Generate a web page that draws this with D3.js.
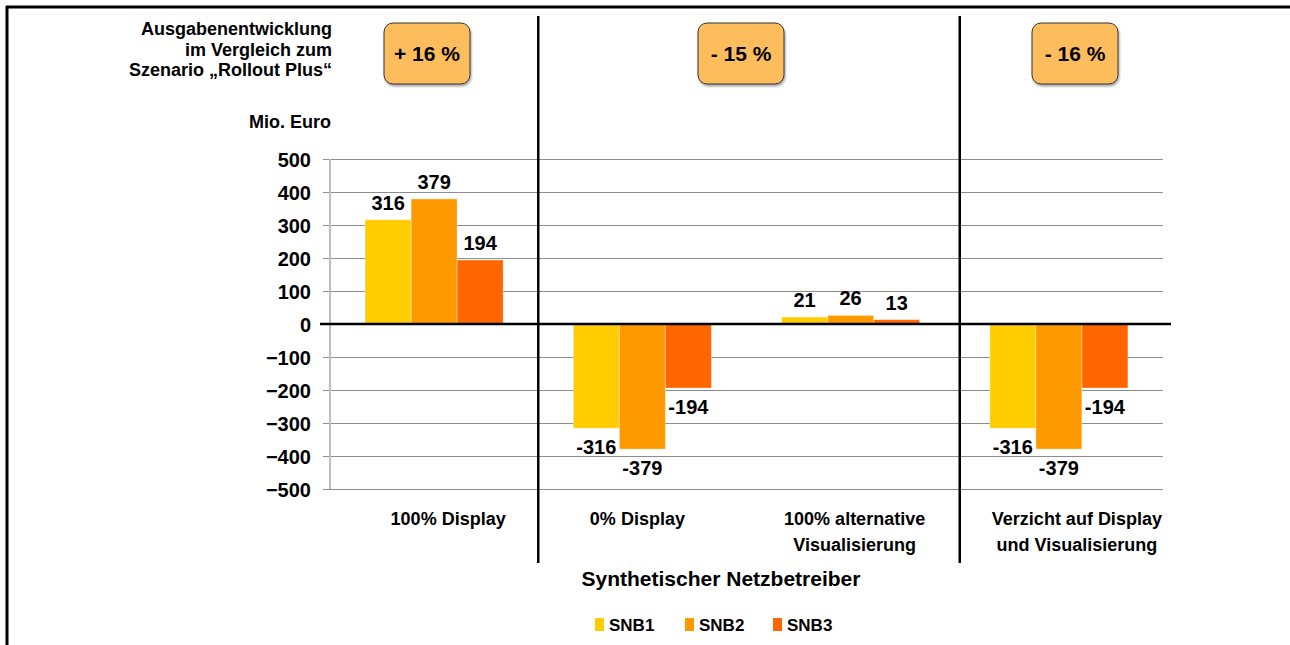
<!DOCTYPE html>
<html>
<head>
<meta charset="utf-8">
<script src="https://cdn.jsdelivr.net/npm/d3@7"></script>
<style>
    body { margin: 0; background: #fff; }
    svg { display: block; font-family: "Liberation Sans", Arial, sans-serif; font-weight: bold; }
</style>
</head>
<body>
<div id="chart"></div>
<script>
// Data
var categories = ['100% Display', '0% Display', '100% alternative\nVisualisierung', 'Verzicht auf Display\nund Visualisierung'];
var seriesNames = ['SNB1', 'SNB2', 'SNB3'];
var snb1 = [316, -316, 21, -316];
var snb2 = [379, -379, 26, -379];
var snb3 = [194, -194, 13, -194];
var yTicks = [500, 400, 300, 200, 100, 0, -100, -200, -300, -400, -500];
var changeLabels = ['+ 16 %', '- 15 %', '- 16 %'];
var titleLines = ['Ausgabenentwicklung', 'im Vergleich zum', 'Szenario \u201eRollout Plus\u201c'];

var colors = ['#FFCC00', '#FF9900', '#FF6600'];

var width = 1290, height = 645;
var plot = {left: 330, right: 1163, top: 159, bottom: 489};

var svg = d3.select('#chart').append('svg')
    .attr('width', width)
    .attr('height', height);

// Frame (left + top edge only)
svg.append('line').attr('x1', 7).attr('x2', 7).attr('y1', 6).attr('y2', height)
    .attr('stroke', '#000').attr('stroke-width', 3);
svg.append('line').attr('x1', 6).attr('x2', width).attr('y1', 7).attr('y2', 7)
    .attr('stroke', '#000').attr('stroke-width', 3);

// Scales
var xScale = d3.scaleBand()
    .domain(categories)
    .range([plot.left, plot.right])
    .paddingInner(0.337)
    .paddingOuter(0.337 / 2);

var xInner = d3.scaleBand()
    .domain(seriesNames)
    .range([0, xScale.bandwidth()]);

var yScale = d3.scaleLinear()
    .domain([-500, 500])
    .range([plot.bottom, plot.top]);

// Gridlines
var grid = d3.axisLeft(yScale)
    .tickValues(yTicks)
    .tickSize(-(plot.right - plot.left) - 7)
    .tickFormat('');
svg.append('g')
    .attr('class', 'grid')
    .attr('transform', 'translate(' + (plot.left - 7) + ',0)')
    .call(grid)
    .call(function(g) {
        g.select('.domain').remove();
        g.selectAll('line').attr('stroke', '#8c8c8c').attr('stroke-width', 1);
    });

// Y axis line
svg.append('line')
    .attr('x1', plot.left).attr('x2', plot.left)
    .attr('y1', yScale(500)).attr('y2', yScale(-500))
    .attr('stroke', '#bdbdbd').attr('stroke-width', 2);

// Y tick labels
var yAxis = d3.axisLeft(yScale).tickValues(yTicks).tickSize(0).tickPadding(0);
svg.append('g')
    .attr('transform', 'translate(' + 311 + ',0)')
    .call(yAxis)
    .call(function(g) {
        g.select('.domain').remove();
        g.selectAll('text')
            .attr('font-size', 20)
            .attr('font-family', '"Liberation Sans", Arial, sans-serif')
            .attr('font-weight', 'bold')
            .attr('fill', '#000')
            .attr('dy', '0.35em');
    });

// Bars
var table = categories.map(function(c, i) {
    return {cat: c, values: [snb1[i], snb2[i], snb3[i]]};
});

var groups = svg.selectAll('.group')
    .data(table)
    .enter().append('g')
    .attr('class', 'group')
    .attr('transform', function(d) { return 'translate(' + xScale(d.cat) + ',0)'; });

groups.selectAll('rect')
    .data(function(d) { return d.values.map(function(v, j) { return {name: seriesNames[j], value: v, j: j}; }); })
    .enter().append('rect')
    .attr('x', function(d) { return xInner(d.name); })
    .attr('width', xInner.bandwidth())
    .attr('y', function(d) { return yScale(Math.max(0, d.value)); })
    .attr('height', function(d) { return Math.abs(yScale(d.value) - yScale(0)); })
    .attr('fill', function(d) { return colors[d.j]; })
    .attr('stroke', 'rgba(255,255,255,0.35)')
    .attr('stroke-width', 1);

groups.selectAll('.val')
    .data(function(d) { return d.values.map(function(v, j) { return {name: seriesNames[j], value: v}; }); })
    .enter().append('text')
    .attr('class', 'val')
    .attr('x', function(d) { return xInner(d.name) + xInner.bandwidth() / 2; })
    .attr('y', function(d) { return d.value >= 0 ? yScale(d.value) - 10 : yScale(d.value) + 26; })
    .attr('text-anchor', 'middle')
    .attr('font-size', 20)
    .text(function(d) { return d.value; });

// Zero line
svg.append('line')
    .attr('x1', plot.left - 10).attr('x2', plot.right + 8)
    .attr('y1', yScale(0)).attr('y2', yScale(0))
    .attr('stroke', '#000').attr('stroke-width', 2.5);

// Section separators
var sepX = [xScale(categories[1]) - xScale.step() * xScale.paddingInner() / 2,
            xScale(categories[3]) - xScale.step() * xScale.paddingInner() / 2 + 5];
svg.selectAll('.sep')
    .data(sepX)
    .enter().append('line')
    .attr('class', 'sep')
    .attr('x1', function(d) { return d; }).attr('x2', function(d) { return d; })
    .attr('y1', 16).attr('y2', 563)
    .attr('stroke', '#000').attr('stroke-width', 2.5);

// Category labels (slightly shifted like the original)
var labelShift = [14, -5, 4, 18];
var catLabels = svg.selectAll('.cat')
    .data(categories)
    .enter().append('text')
    .attr('class', 'cat')
    .attr('text-anchor', 'middle')
    .attr('font-size', 18)
    .attr('transform', function(d, i) { return 'translate(' + (xScale(d) + xScale.bandwidth() / 2 + labelShift[i]) + ',525)'; });
catLabels.selectAll('tspan')
    .data(function(d) { return d.split('\n'); })
    .enter().append('tspan')
    .attr('x', 0)
    .attr('dy', function(d, i) { return i === 0 ? 0 : 26; })
    .text(function(d) { return d; });

// X title
svg.append('text')
    .attr('x', 721).attr('y', 586)
    .attr('text-anchor', 'middle')
    .attr('font-size', 21)
    .text('Synthetischer Netzbetreiber');

// Legend
var legendX = [595, 685, 773];
var legend = svg.selectAll('.legend')
    .data(seriesNames)
    .enter().append('g')
    .attr('class', 'legend')
    .attr('transform', function(d, i) { return 'translate(' + legendX[i] + ',618)'; });
legend.append('rect')
    .attr('width', 9).attr('height', 13)
    .attr('fill', function(d, i) { return colors[i]; });
legend.append('text')
    .attr('x', 14).attr('y', 13)
    .attr('font-size', 17)
    .text(function(d) { return d; });

// Title block top-left
svg.append('text')
    .attr('text-anchor', 'end')
    .attr('font-size', 18)
    .selectAll('tspan')
    .data(titleLines)
    .enter().append('tspan')
    .attr('x', 332)
    .attr('y', function(d, i) { return 35 + i * 20.5; })
    .text(function(d) { return d; });

svg.append('text')
    .attr('x', 331).attr('y', 128)
    .attr('text-anchor', 'end')
    .attr('font-size', 18)
    .text('Mio. Euro');

// Change boxes
var defs = svg.append('defs');
var shadow = defs.append('filter').attr('id', 'shadow').attr('x', '-20%').attr('y', '-20%').attr('width', '140%').attr('height', '140%');
shadow.append('feDropShadow').attr('dx', 1).attr('dy', 2).attr('stdDeviation', 1.2).attr('flood-color', '#000').attr('flood-opacity', 0.35);

var boxX = [427, 741, 1075];
var boxes = svg.selectAll('.box')
    .data(changeLabels)
    .enter().append('g')
    .attr('class', 'box')
    .attr('transform', function(d, i) { return 'translate(' + boxX[i] + ',53)'; });
boxes.append('rect')
    .attr('x', -43).attr('y', -30)
    .attr('width', 86).attr('height', 61)
    .attr('rx', 9).attr('ry', 9)
    .attr('fill', '#FDBD5C')
    .attr('stroke', '#333')
    .attr('stroke-width', 1)
    .attr('filter', 'url(#shadow)');
boxes.append('text')
    .attr('text-anchor', 'middle')
    .attr('y', 8)
    .attr('font-size', 21)
    .text(function(d) { return d; });
</script>
</body>
</html>
